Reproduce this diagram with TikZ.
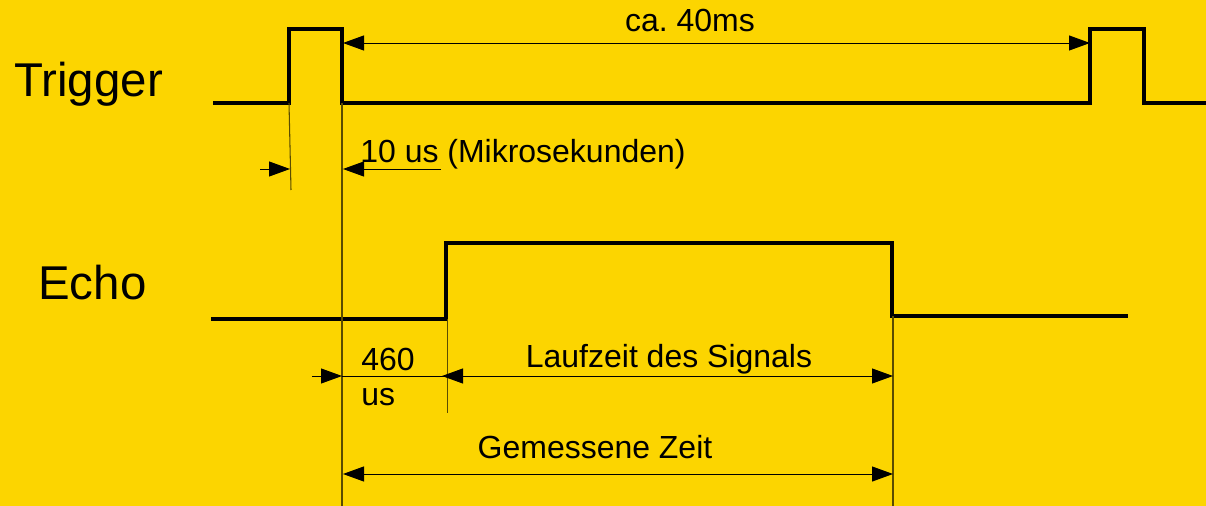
\documentclass[tikz,border=0pt]{standalone}
\usepackage{fontspec}
\setmainfont{Liberation Sans}
\usetikzlibrary{arrows.meta}
\definecolor{sigyellow}{HTML}{FCD500}
\definecolor{sigmark}{HTML}{5A4C00}
\frenchspacing

\begin{document}
\begin{tikzpicture}[x=0.02cm, y=-0.02cm,
  signal/.style={line width=1.9pt, line join=miter},
  dimline/.style={line width=0.55pt},
  extline/.style={line width=0.6pt, draw=sigmark},
  tip/.style={-{Triangle[length=4.2mm, width=3mm]}},
  bigtext/.style={inner sep=0pt, anchor=base west, font=\fontsize{27}{30}\selectfont},
  smalltext/.style={inner sep=0pt, anchor=base, font=\fontsize{18.2}{21}\selectfont}]
  \fill[sigyellow] (0,0) rectangle (1206,506);
  \useasboundingbox (0,0) rectangle (1206,506);

  \node[bigtext] (trig) at (14,97) {Trigger};
  \node[bigtext] (echo) at (38,299) {Echo};

  \coordinate (trigup) at (289,103);
  \coordinate (trigdown) at (342,103);
  \coordinate (trigup2) at (1090,103);
  \coordinate (echoup) at (446,319);
  \coordinate (echodown) at (892,316);

  \draw[signal] (213,103) -- (trigup) -- (289,29) -- (342,29) -- (trigdown) -- (trigup2) -- (1090,29) -- (1144,29) -- (1144,103) -- (1206,103);
  \draw[signal] (211,319) -- (echoup) -- (446,243) -- (892,243) -- (echodown) -- (1128,316);

  \draw[extline] (trigup) -- (291,190);
  \draw[extline] (trigdown) -- (342,506);
  \draw[extline] (echoup) ++(1.5,0) -- (447.5,413);
  \draw[extline] (echodown) ++(1,0) -- (893,506);

  \draw[dimline, tip] (trigdown |- 0,43) ++(60,0) -- ++(-59,0);
  \draw[dimline, tip] (trigdown |- 0,43) ++(60,0) -- (trigup2 |- 0,43);
  \node[smalltext] (period) at (690,32) {ca. 40ms};

  \draw[dimline, tip] (260,169) -- (290,169);
  \draw[dimline, tip] (441,169) -- (343,169);
  \node[smalltext, anchor=base west] (pulse) at (360,163) {10 us (Mikrosekunden)};

  \draw[dimline, tip] (312,376) -- (342,376);
  \draw[dimline] (342,376) -- (462,376);
  \draw[dimline, tip] (520,376) -- (442,376);
  \draw[dimline, tip] (520,376) -- (893,376);
  \node[smalltext, anchor=base west] (delay) at (361,370) {460};
  \node[smalltext, anchor=base west] (delayunit) at (361,405) {us};
  \node[smalltext] (runtime) at (669,367) {Laufzeit des Signals};

  \draw[dimline, tip] (600,474) -- (343,474);
  \draw[dimline, tip] (600,474) -- (893,474);
  \node[smalltext] (measured) at (595,458) {Gemessene Zeit};
\end{tikzpicture}
\end{document}
